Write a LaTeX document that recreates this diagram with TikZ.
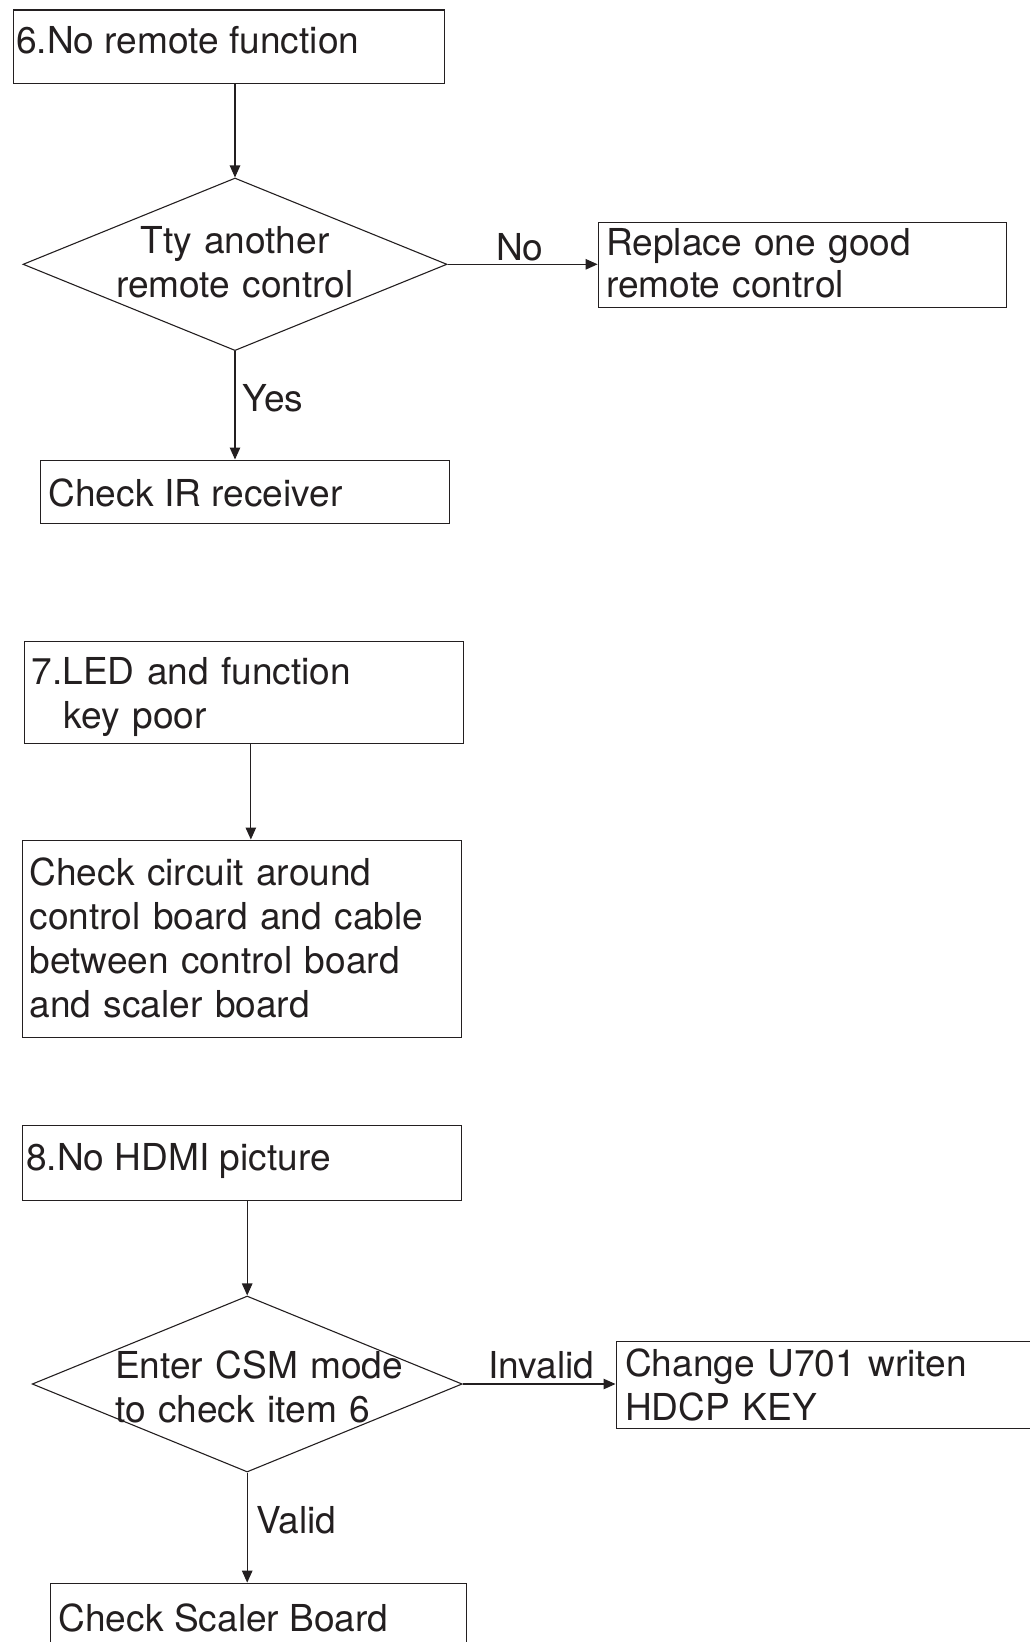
\documentclass[tikz,border=0pt]{standalone}
\usepackage{fontspec}
\setmainfont{TeX Gyre Heros}
\usetikzlibrary{arrows.meta,shapes.geometric,calc}
\definecolor{ink}{HTML}{231F20}
\begin{document}
\begin{tikzpicture}[x=1pt,y=-1pt,
  box/.style={draw=ink, line width=1.1pt, rectangle, inner sep=0pt, anchor=north west},
  decision/.style={draw=ink, line width=1.1pt, diamond, inner sep=0pt},
  txt/.style={font=\fontsize{37.1}{44}\selectfont, text=ink, inner sep=0pt},
  arr/.style={draw=ink, line width=1.1pt, -{Triangle[length=12pt,width=10.5pt]}}]
\useasboundingbox (0,0) rectangle (1030,1642);
\clip (0,0) rectangle (1030,1642);

% --- 6. No remote function ---
\node[box, minimum width=431.2pt, minimum height=73.3pt] (b1) at (12.6,9.4) {};
\node[txt, anchor=base west] (t1) at (16,53) {6.No remote function};
\node[decision, minimum width=424pt, minimum height=172.6pt] (d1) at (235,264.3) {};
\node[txt, anchor=base, align=center, text width=320pt] (t2) at (235,253) {Tty another\\remote control};
\draw[arr] (b1.south -| d1.north) -- (d1.north);

\node[box, minimum width=408.4pt, minimum height=84.7pt] (b2) at (597.6,222) {};
\node[txt, font=\fontsize{37.1}{42}\selectfont, anchor=base west, align=left, text width=390pt] (t3) at (606,255.5) {Replace one good\\remote control};
\draw[arr] (d1.east) -- (d1.east -| b2.west);
\node[txt, anchor=base west] (l1) at (496,260.6) {No};

\node[box, minimum width=409pt, minimum height=63pt] (b3) at (40,459.5) {};
\node[txt, anchor=base west] (t4) at (48.3,506.7) {Check IR receiver};
\draw[arr] (d1.south) -- (d1.south |- b3.north);
\node[txt, anchor=base west] (l2) at (242.7,411) {Yes};

% --- 7. LED and function key poor ---
\node[box, minimum width=438.6pt, minimum height=102.4pt] (b4) at (24,640.6) {};
\node[txt, anchor=base west, align=left, text width=420pt] (t5) at (31.4,684.5) {7.LED and function\\\hspace*{32.4pt}key poor};
\node[box, minimum width=438.5pt, minimum height=197.8pt] (b5) at (22,839.5) {};
\node[txt, anchor=base west, align=left, text width=420pt] (t6) at (29.3,885) {Check circuit around\\control board and cable\\between control board\\and scaler board};
\draw[arr] ([xshift=7pt]b4.south) -- ([xshift=7pt]b4.south |- b5.north);

% --- 8. No HDMI picture ---
\node[box, minimum width=438.5pt, minimum height=74.5pt] (b6) at (22,1125) {};
\node[txt, anchor=base west] (t7) at (26,1170) {8.No HDMI picture};
\node[decision, minimum width=430pt, minimum height=176pt] (d2) at (247.2,1384) {};
\node[txt, anchor=base west, align=left, text width=320pt] (t8) at (115,1378.3) {Enter CSM mode\\to check item 6};
\draw[arr] (b6.south -| d2.north) -- (d2.north);

\node[box, minimum width=440pt, minimum height=87pt] (b7) at (615.5,1341) {};
\node[txt, anchor=base west, align=left, text width=400pt] (t9) at (625,1376) {Change U701 writen\\HDCP KEY};
\draw[arr] (d2.east) -- (d2.east -| b7.west);
\node[txt, anchor=base west] (l3) at (488,1378.3) {Invalid};

\node[box, minimum width=415.7pt, minimum height=100pt] (b8) at (50.3,1582.6) {};
\node[txt, anchor=base west] (t10) at (58.3,1631.7) {Check Scaler Board};
\draw[arr] (d2.south) -- (d2.south |- b8.north);
\node[txt, anchor=base west] (l4) at (256,1533.3) {Valid};
\end{tikzpicture}
\end{document}
